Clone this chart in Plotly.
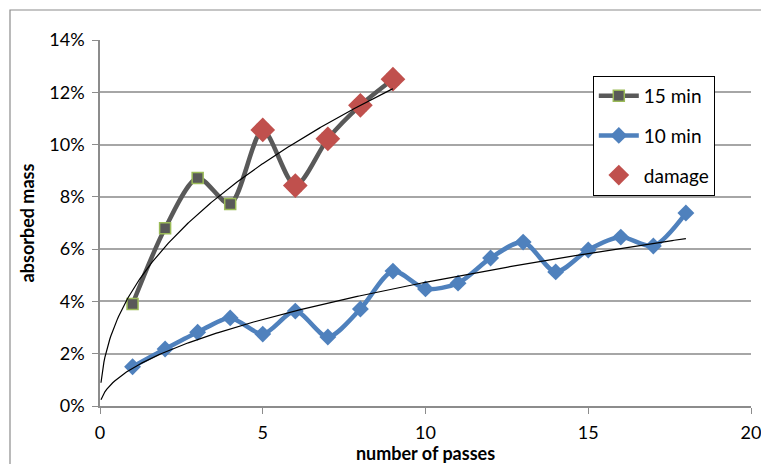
import numpy as np
import plotly.graph_objects as go

passes_15 = [1, 2, 3, 4, 5, 6, 7, 8, 9]
mass_15 = [0.039, 0.068, 0.0872, 0.0773, 0.1056, 0.0843, 0.1022, 0.1150, 0.1250]

passes_dmg = [5, 6, 7, 8, 9]
mass_dmg = [0.1056, 0.0843, 0.1022, 0.1150, 0.1250]

passes_10 = list(range(1, 19))
mass_10 = [0.0150, 0.0218, 0.0282, 0.0337, 0.0275, 0.0363, 0.0264, 0.0371, 0.0516,
           0.0448, 0.0470, 0.0566, 0.0627, 0.0513, 0.0597, 0.0646, 0.0612, 0.0738]

x_ticks = [0, 5, 10, 15, 20]
y_ticks = [0, 0.02, 0.04, 0.06, 0.08, 0.10, 0.12, 0.14]


def power_fit(x, y, x_start):
    b, lna = np.polyfit(np.log(x), np.log(y), 1)
    xs = np.linspace(x_start, max(x), 300)
    return xs, np.exp(lna) * xs ** b


FONT = "Lato"
fig = go.Figure()

fig.add_trace(go.Scatter(
    x=passes_15, y=mass_15, mode="lines+markers", name="15 min",
    line=dict(color="#595959", width=4.5, shape="spline", smoothing=0.8),
    marker=dict(symbol="square", size=11, color="#595959",
                line=dict(color="#9BBB59", width=1.5)),
    legendgroup="a"))
fig.add_trace(go.Scatter(
    x=passes_10, y=mass_10, mode="lines+markers", name="10 min",
    line=dict(color="#4F81BD", width=4.5, shape="spline", smoothing=0.8),
    marker=dict(symbol="diamond", size=13, color="#4F81BD"),
    legendgroup="b"))
fig.add_trace(go.Scatter(
    x=passes_dmg, y=mass_dmg, mode="markers", name="damage",
    marker=dict(symbol="diamond", size=19, color="#C0504D"),
    legendgroup="c"))

for xv, yv in ((passes_15, mass_15), (passes_10, mass_10)):
    tx, ty = power_fit(xv, yv, 0.03)
    fig.add_trace(go.Scatter(x=tx, y=ty, mode="lines", showlegend=False,
                             line=dict(color="black", width=1.2), hoverinfo="skip"))

fig.update_layout(
    width=761, height=456,
    margin=dict(l=92, r=18, t=32, b=58),
    paper_bgcolor="white", plot_bgcolor="white",
    font=dict(family=FONT, size=18, color="#000000"),
    showlegend=True,
    legend=dict(x=0.757, y=0.902, xanchor="left", yanchor="top",
                bgcolor="white", bordercolor="black", borderwidth=1,
                font=dict(family=FONT, size=19), tracegroupgap=12,
                itemwidth=40, entrywidth=132, entrywidthmode="pixels"),
    xaxis=dict(range=[0, 20], tickvals=x_ticks, showgrid=False, automargin=False,
               showline=True, linecolor="#8C8C8C", linewidth=1.5,
               ticks="outside", ticklen=6, tickcolor="#8C8C8C",
               ticklabelstandoff=4, ticklabeloverflow="allow", zeroline=False,
               title=dict(text="<b>number of passes</b>", standoff=0,
                          font=dict(family=FONT, size=18))),
    yaxis=dict(range=[0, 0.14], tickvals=y_ticks, tickformat=".0%", automargin=False,
               showgrid=True, gridcolor="#A6A6A6", gridwidth=1.5,
               showline=True, linecolor="#8C8C8C", linewidth=1.5,
               ticks="outside", ticklen=6, tickcolor="#8C8C8C",
               ticklabelstandoff=4, zeroline=False,
               title=dict(text="<b>absorbed mass</b>", standoff=10,
                          font=dict(family=FONT, size=18))),
    shapes=[dict(type="rect", xref="paper", yref="paper",
                 x0=-90 / 651, x1=1 + 60 / 651, y0=-100 / 366, y1=1 + 30 / 366,
                 line=dict(color="#8C8C8C", width=1.2), layer="below")],
)

fig.write_html("out.html")
